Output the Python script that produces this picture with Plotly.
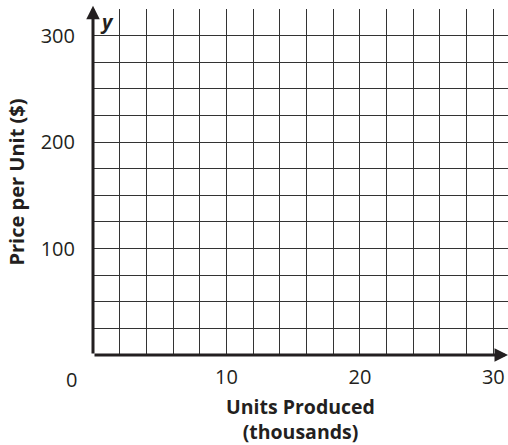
import plotly.graph_objects as go

# Axis extents and tick marks
x_max = 31.1
y_max = 325
x_grid_step = 2
y_grid_step = 25
x_tick_vals = [10, 20, 30]
x_tick_text = ["10", "20", "30"]
y_tick_vals = [100, 200, 300]
y_tick_text = ["100", "200", "300"]

x_title = "<b>Units Produced<br>(thousands)</b>"
y_title = "<b>Price per Unit ($)</b>"

font_family = "Open Sans, Noto Sans, sans-serif"
grid_color = "#333333"
ink = "#231f20"

fig = go.Figure()

# invisible trace so the axes render
fig.add_trace(go.Scatter(x=[0, x_max], y=[0, y_max], mode="markers",
                         marker=dict(opacity=0), hoverinfo="skip", showlegend=False))

fig.update_xaxes(
    range=[0, x_max],
    showgrid=True, gridcolor=grid_color, gridwidth=1,
    zeroline=False, showline=False,
    tickmode="array", tickvals=x_tick_vals, ticktext=x_tick_text,
    ticks="", ticklabelstandoff=8,
    tickfont=dict(family=font_family, size=20, color=ink),
    title=dict(text=x_title, font=dict(family=font_family, size=19.5, color=ink), standoff=11),
    # grid lines every 2 units independent of labelled ticks
    minor=dict(dtick=x_grid_step, tick0=0, showgrid=True, gridcolor=grid_color, gridwidth=1),
)

fig.update_yaxes(
    range=[0, y_max],
    showgrid=True, gridcolor=grid_color, gridwidth=1,
    zeroline=False, showline=False,
    tickmode="array", tickvals=y_tick_vals, ticktext=y_tick_text,
    ticks="", ticklabelstandoff=17,
    tickfont=dict(family=font_family, size=20, color=ink),
    title=dict(text=y_title, font=dict(family=font_family, size=20, color=ink), standoff=10),
    minor=dict(dtick=y_grid_step, tick0=0, showgrid=True, gridcolor=grid_color, gridwidth=1),
)

# axes drawn as arrows from the origin
fig.add_annotation(x=0, y=328, ax=0, ay=0, xref="x", yref="y", axref="x", ayref="y",
                   showarrow=True, arrowhead=2, arrowsize=0.9, arrowwidth=3,
                   arrowcolor=ink, text="")
fig.add_annotation(x=x_max, y=0, ax=0, ay=0, xref="x", yref="y", axref="x", ayref="y",
                   showarrow=True, arrowhead=2, arrowsize=0.9, arrowwidth=3,
                   arrowcolor=ink, text="")

# axis variable labels and origin label
fig.add_annotation(x=0, y=y_max, xref="x", yref="y", text="<b><i>y</i></b>", showarrow=False,
                   xanchor="left", yanchor="top", xshift=5, yshift=3,
                   font=dict(family=font_family, size=20, color=ink))
fig.add_annotation(x=x_max, y=0, xref="x", yref="y", text="<b><i>x</i></b>", showarrow=False,
                   xanchor="left", yanchor="top", xshift=-2, yshift=-1,
                   font=dict(family=font_family, size=20, color=ink))
fig.add_annotation(x=0, y=0, xref="x", yref="y", text="0", showarrow=False,
                   xanchor="center", yanchor="middle", xshift=-22, yshift=-24,
                   font=dict(family=font_family, size=20, color=ink))

fig.update_layout(
    width=508, height=445,
    margin=dict(l=93, r=0, t=9, b=90),
    plot_bgcolor="white", paper_bgcolor="white",
    showlegend=False,
)

fig.write_html("out.html", config={"displayModeBar": False})
